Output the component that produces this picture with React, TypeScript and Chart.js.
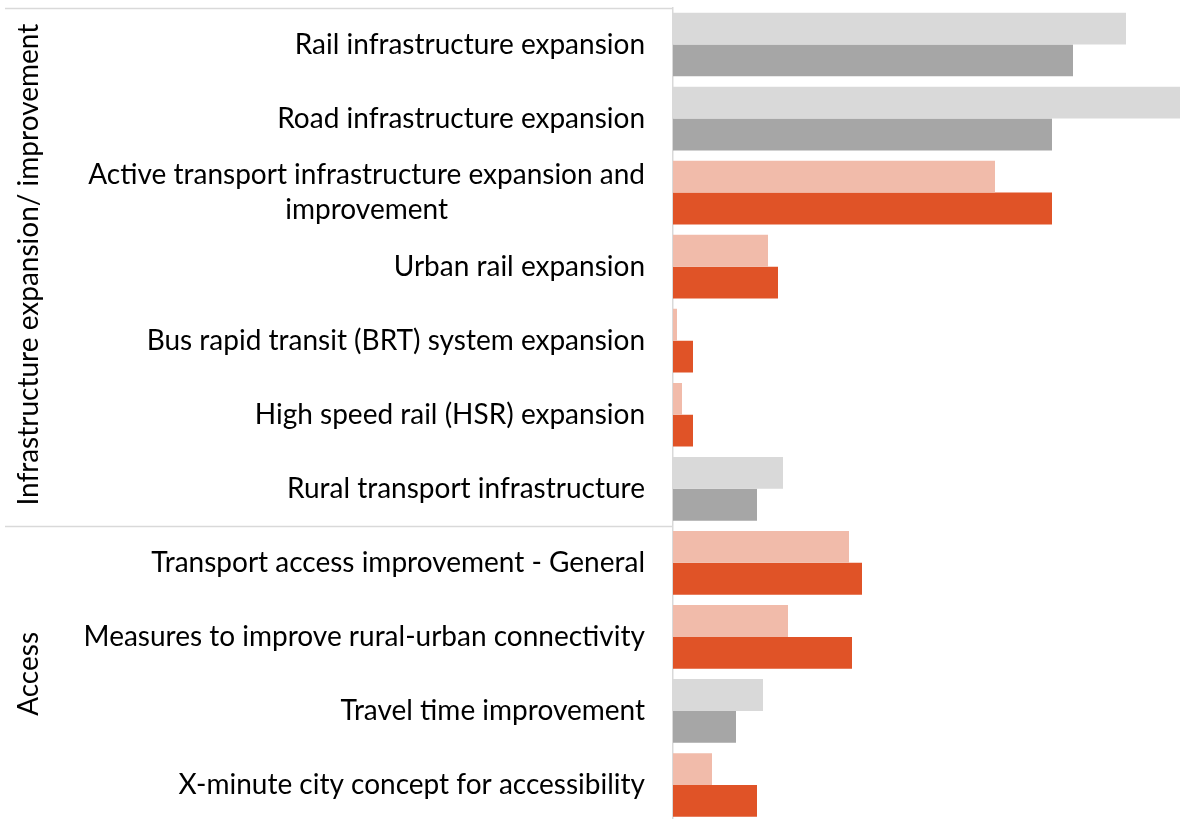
import React, { useEffect, useRef } from "react";
import { Chart, registerables } from "chart.js";

Chart.register(...registerables);

const categories: string[][] = [
  ["Rail infrastructure expansion"],
  ["Road infrastructure expansion"],
  ["Active transport infrastructure expansion and", "improvement"],
  ["Urban rail expansion"],
  ["Bus rapid transit (BRT) system expansion"],
  ["High speed rail (HSR) expansion"],
  ["Rural transport infrastructure"],
  ["Transport access improvement - General"],
  ["Measures to improve rural-urban connectivity"],
  ["Travel time improvement"],
  ["X-minute city concept for accessibility"],
];

const seriesLight = [45.3, 50.7, 32.2, 9.5, 0.4, 0.9, 11.0, 17.6, 11.5, 9.0, 3.9];
const seriesDark = [40.0, 37.9, 37.9, 10.5, 2.0, 2.0, 8.4, 18.9, 17.9, 6.3, 8.4];
const palette = ["gray", "gray", "orange", "orange", "orange", "orange", "gray", "orange", "orange", "gray", "orange"];

const groupLabels = ["Infrastructure expansion/ improvement", "Access"];
const groupStart = [0, 7];
const groupEnd = [6, 10];

const COLORS: Record<string, { light: string; dark: string }> = {
  gray: { light: "#d9d9d9", dark: "#a6a6a6" },
  orange: { light: "#f1bbaa", dark: "#e05327" },
};

const FONT_FAMILY = "Lato, 'Open Sans', sans-serif";
const FONT_SIZE = 28;
const GROUP_FONT_SIZE = 28;

const labelPlugin = {
  id: "customLabels",
  afterDraw(chart: any) {
    const ctx = chart.ctx as CanvasRenderingContext2D;
    const y = chart.scales.y;
    const area = chart.chartArea;
    ctx.save();
    ctx.fillStyle = "#000";
    ctx.font = `${FONT_SIZE}px ${FONT_FAMILY}`;
    ctx.textBaseline = "middle";
    const right = area.left - 28;
    categories.forEach((lines, i) => {
      const py = y.getPixelForValue(i);
      if (lines.length === 1) {
        ctx.textAlign = "right";
        ctx.fillText(lines[0], right, py);
      } else {
        const lh = 35;
        const w1 = ctx.measureText(lines[0]).width;
        ctx.textAlign = "right";
        ctx.fillText(lines[0], right, py - lh / 2);
        ctx.textAlign = "center";
        ctx.fillText(lines[1], right - w1 / 2, py + lh / 2);
      }
    });
    // bracket lines
    ctx.strokeStyle = "#d9d9d9";
    ctx.lineWidth = 1.5;
    groupStart.forEach((s) => {
      const py = Math.round(y.getPixelForValue(s - 0.5)) + 0.5;
      ctx.beginPath();
      ctx.moveTo(5, py);
      ctx.lineTo(area.left, py);
      ctx.stroke();
    });
    // group labels
    ctx.font = `${GROUP_FONT_SIZE}px ${FONT_FAMILY}`;
    groupLabels.forEach((g, k) => {
      const top = y.getPixelForValue(groupStart[k] - 0.5);
      const bot = y.getPixelForValue(groupEnd[k] + 0.5);
      const cy = (top + Math.min(bot, chart.height)) / 2 + (k === 1 ? 0 : -2);
      ctx.save();
      ctx.translate(29, cy);
      ctx.rotate(-Math.PI / 2);
      ctx.textAlign = "center";
      ctx.textBaseline = "middle";
      ctx.fillStyle = "#000";
      ctx.fillText(g, 0, 0);
      ctx.restore();
    });
    ctx.restore();
  },
};

export default function App() {
  const ref = useRef<HTMLCanvasElement | null>(null);
  useEffect(() => {
    document.body.style.margin = "0";
    document.body.style.overflow = "hidden";
    const chart = new Chart(ref.current!, {
      type: "bar",
      data: {
        labels: categories.map((c) => c.join(" ")),
        datasets: [
          {
            label: "Light",
            data: seriesLight,
            backgroundColor: palette.map((p) => COLORS[p].light),
            categoryPercentage: 0.86,
            barPercentage: 1,
          },
          {
            label: "Dark",
            data: seriesDark,
            backgroundColor: palette.map((p) => COLORS[p].dark),
            categoryPercentage: 0.86,
            barPercentage: 1,
          },
        ],
      },
      options: {
        indexAxis: "y",
        animation: false,
        responsive: true,
        maintainAspectRatio: false,
        layout: { padding: { top: 7.5, right: 0, bottom: 0, left: 0 } },
        plugins: { legend: { display: false }, tooltip: { enabled: false } },
        scales: {
          x: { display: false, min: 0, max: 50.8 },
          y: {
            display: true,
            ticks: { display: false },
            grid: { display: false, drawTicks: false },
            border: { display: true, color: "#d9d9d9", width: 1.5 },
            afterFit: (s: any) => {
              s.width = 673;
            },
          },
        },
      },
      plugins: [labelPlugin],
    });
    return () => chart.destroy();
  }, []);
  return (
    <div style={{ position: "fixed", left: 0, top: 0, width: 1181, height: 822 }}>
      <canvas ref={ref} />
    </div>
  );
}
